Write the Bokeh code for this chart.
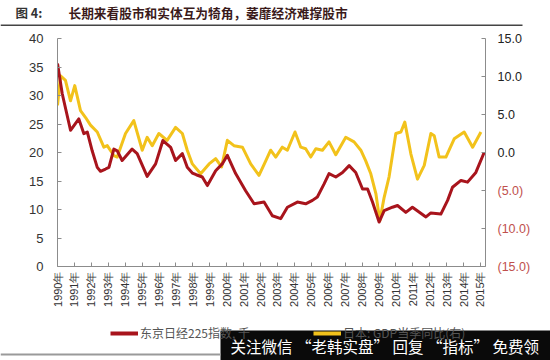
from bokeh.plotting import figure
from bokeh.layouts import column, row
from bokeh.models import (Range1d, LinearAxis, FixedTicker, Label, Legend,
                          LegendItem, BoxAnnotation)
from bokeh.embed import file_html
from bokeh.resources import INLINE

# ---------------- data ----------------
nikkei_t = [1990.00, 1990.28, 1990.77, 1991.26, 1991.56, 1991.76, 1992.05, 1992.35,
            1992.54, 1992.84, 1993.04, 1993.33, 1993.53, 1993.82, 1994.41, 1994.71,
            1995.30, 1995.80, 1996.23, 1996.69, 1996.98, 1997.38, 1997.67, 1997.97,
            1998.20, 1998.56, 1998.86, 1999.35, 1999.74, 2000.04, 2000.53, 2001.12,
            2001.62, 2002.21, 2002.70, 2003.20, 2003.59, 2004.18, 2004.67, 2005.07,
            2005.36, 2005.76, 2006.05, 2006.45, 2006.85, 2007.24, 2007.63, 2008.03,
            2008.33, 2008.62, 2009.01, 2009.31, 2009.80, 2010.10, 2010.59, 2010.98,
            2011.78, 2012.07, 2012.66, 2013.06, 2013.35, 2013.85, 2014.24, 2014.73,
            2015.22]
nikkei_v = [35.6, 30.3, 23.9, 25.9, 23.3, 23.6, 20.3, 17.4,
            16.7, 17.1, 17.4, 20.6, 20.3, 18.6, 20.6, 19.8,
            15.8, 18.0, 22.1, 20.9, 18.6, 19.8, 17.4, 16.4,
            16.1, 15.7, 14.2, 16.8, 18.0, 19.5, 16.3, 13.3,
            11.0, 11.3, 8.9, 8.4, 10.4, 11.3, 11.0, 11.6,
            12.2, 14.5, 16.3, 15.7, 16.5, 17.7, 16.5, 13.6,
            13.6, 11.3, 7.8, 9.8, 10.4, 10.7, 9.5, 10.4,
            8.7, 9.4, 9.2, 11.6, 13.9, 15.1, 14.8, 16.5,
            20.0]

gdp_t = [1990.00, 1990.18, 1990.47, 1990.77, 1991.02, 1991.36, 1991.66, 1991.95,
         1992.35, 1992.74, 1992.94, 1993.33, 1993.53, 1994.02, 1994.51, 1995.01,
         1995.30, 1995.60, 1995.99, 1996.48, 1996.98, 1997.38, 1997.67, 1997.97,
         1998.46, 1998.96, 1999.35, 1999.70, 2000.04, 2000.43, 2000.93, 2001.42,
         2001.91, 2002.31, 2002.60, 2002.90, 2003.29, 2003.59, 2004.04, 2004.38,
         2004.67, 2004.97, 2005.27, 2005.66, 2006.05, 2006.45, 2007.04, 2007.53,
         2007.93, 2008.22, 2008.52, 2008.82, 2009.05, 2009.31, 2009.60, 2010.00,
         2010.30, 2010.53, 2010.89, 2011.28, 2011.68, 2012.07, 2012.27, 2012.56,
         2012.96, 2013.45, 2014.04, 2014.54, 2015.03]
gdp_v = [6.2, 10.1, 9.5, 6.8, 8.8, 5.5, 4.6, 3.6,
         2.7, 0.7, 0.9, -0.4, -0.6, 2.5, 4.2, 0.3,
         2.0, 0.9, 2.5, 1.6, 3.3, 2.5, 0.3, -1.5,
         -2.8, -1.5, -0.8, -1.9, 1.6, 0.9, 0.7, -1.5,
         -3.0, -1.1, 0.3, -0.6, 0.7, 0.3, 2.7, 0.7,
         0.5, -0.6, 0.5, 0.3, 1.4, -0.3, 2.0, 1.4,
         0.3, -1.1, -2.8, -5.4, -9.0, -5.9, -3.2, 2.5,
         2.7, 4.0, -0.2, -3.5, -1.7, 2.5, 2.2, -0.6,
         -0.6, 1.8, 2.7, 0.7, 2.7]

years = list(range(1990, 2016))
year_labels = {y: f"{y}年" for y in years}
left_ticks = [0, 5, 10, 15, 20, 25, 30, 35, 40]
right_pos_ticks = {15: "15.0", 10: "10.0", 5: "5.0", 0: "0.0"}
right_neg_ticks = {-5: "(5.0)", -10: "(10.0)", -15: "(15.0)"}

title_num = "图 4:"
title_text = "长期来看股市和实体互为犄角，萎靡经济难撑股市"
legend_red = "东京日经225指数, 千"
legend_yellow = "日本: GDP当季同比(右)"
watermark = "关注微信 “老韩实盘” 回复 “指标” 免费领"

RED = "#A8141C"
YEL = "#F2C21B"
CJK = "Noto Sans CJK SC"
LAT = "Liberation Sans"
AXC = "#8c8c8c"

# ---------------- geometry (page px) ----------------
TOTAL_W = 550
TITLE_H = 31
MAIN_H = 287
BOT_H = 360 - TITLE_H - MAIN_H
F_LEFT, F_RIGHT = 57, 485
F_TOP, F_BOT = 38, 266
MAIN_W = F_RIGHT + 1
SIDE_W = TOTAL_W - MAIN_W
R_MIN, R_MAX = -15, 15


def blank_fig(w, h, yr=(0, 1)):
    f = figure(width=w, height=h, output_backend="svg", toolbar_location=None,
               x_axis_location=None, y_axis_location=None,
               x_range=Range1d(0, 1), y_range=Range1d(*yr),
               min_border=0, min_border_left=0, min_border_right=0,
               min_border_top=0, min_border_bottom=0)
    f.outline_line_color = None
    f.xgrid.visible = False
    f.ygrid.visible = False
    return f


def box(fig, x0, x1, y0, y1, color, fig_top, fig_h):
    """box in page px, converted to frame-relative screen units"""
    fig.add_layout(BoxAnnotation(
        left=x0, right=x1,
        top=fig_h - (y0 - fig_top), bottom=fig_h - (y1 - fig_top),
        left_units="screen", right_units="screen",
        top_units="screen", bottom_units="screen",
        fill_color=color, fill_alpha=1, line_color=None))


# ---------------- title figure ----------------
tf = blank_fig(TOTAL_W, TITLE_H)
tf.add_layout(Label(x=15, y=TITLE_H - 12, x_units="screen", y_units="screen",
                    text=title_num, text_font=CJK, text_font_size="12.5px",
                    text_font_style="bold", text_color="#333333",
                    text_baseline="middle"))
tf.add_layout(Label(x=68, y=TITLE_H - 12, x_units="screen", y_units="screen",
                    text=title_text, text_font=CJK, text_font_size="12.7px",
                    text_font_style="bold", text_color="#3a1a1a",
                    text_baseline="middle"))
box(tf, 0, 522, 24, 25.5, "#444444", 0, TITLE_H)

# ---------------- main figure ----------------
p = figure(width=MAIN_W, height=MAIN_H, output_backend="svg", toolbar_location=None,
           x_range=Range1d(1990, 2015.3), y_range=Range1d(0, 40),
           min_border_left=F_LEFT, min_border_right=1,
           min_border_top=F_TOP - TITLE_H, min_border_bottom=TITLE_H + MAIN_H - F_BOT)
p.extra_y_ranges = {"gdp": Range1d(R_MIN, R_MAX)}
p.outline_line_color = None
p.xgrid.visible = False
p.ygrid.visible = False

xa = p.xaxis[0]
xa.ticker = FixedTicker(ticks=years)
xa.major_label_overrides = year_labels
xa.major_label_orientation = 3.14159265 / 2
xa.major_label_text_font = LAT
xa.major_label_text_font_size = "11px"
xa.major_label_text_color = "#333333"
xa.major_label_standoff = 5
xa.axis_line_color = AXC
xa.major_tick_line_color = AXC
xa.major_tick_in = 4
xa.major_tick_out = 0
xa.minor_tick_line_color = None

ya = p.yaxis[0]
ya.ticker = FixedTicker(ticks=left_ticks)
ya.major_label_text_font = LAT
ya.major_label_text_font_size = "13px"
ya.major_label_text_color = "#333333"
ya.major_label_standoff = 14
ya.axis_line_color = AXC
ya.major_tick_line_color = AXC
ya.major_tick_in = 4
ya.major_tick_out = 0
ya.minor_tick_line_color = None

ra = LinearAxis(y_range_name="gdp")
all_right = list(right_pos_ticks) + list(right_neg_ticks)
ra.ticker = FixedTicker(ticks=all_right)
ra.major_label_overrides = {k: "" for k in all_right}
ra.major_label_standoff = 0
ra.major_label_text_font_size = "1px"
ra.axis_line_color = AXC
ra.major_tick_line_color = AXC
ra.major_tick_in = 4
ra.major_tick_out = 0
ra.minor_tick_line_color = None
p.add_layout(ra, "right")

r_y = p.line(gdp_t, gdp_v, y_range_name="gdp", line_color=YEL, line_width=3,
             line_join="round")
r_r = p.line(nikkei_t, nikkei_v, line_color=RED, line_width=3, line_join="round")

# ---------------- right tick labels (side figure, full height frame) ----------------
ppu = (F_BOT - F_TOP) / (R_MAX - R_MIN)
side_top = R_MAX + (F_TOP - TITLE_H) / ppu
side_bot = R_MAX - (TITLE_H + MAIN_H - F_TOP) / ppu
sf = blank_fig(SIDE_W, MAIN_H, yr=(side_bot, side_top))
for v, txt in right_pos_ticks.items():
    sf.add_layout(Label(x=497 - MAIN_W, y=v, x_units="screen", text=txt,
                        text_align="left", text_baseline="middle", text_font=LAT,
                        text_font_size="12.5px", text_color="#222222"))
for v, txt in right_neg_ticks.items():
    sf.add_layout(Label(x=497 - MAIN_W, y=v, x_units="screen", text=txt,
                        text_align="left", text_baseline="middle", text_font=LAT,
                        text_font_size="12.5px", text_color="#C0504D"))

# ---------------- bottom figure: legend + overlay ----------------
bf = blank_fig(TOTAL_W, BOT_H)
BT = TITLE_H + MAIN_H
lr = bf.line(nikkei_t, nikkei_v, line_color=RED, line_width=4, visible=False)
ly = bf.line(gdp_t, gdp_v, line_color=YEL, line_width=4, visible=False)
leg_kw = dict(orientation="horizontal", padding=0, margin=0, spacing=0,
              glyph_width=28, glyph_height=14, label_height=14, label_standoff=2,
              border_line_color=None, background_fill_alpha=0,
              label_text_font=CJK, label_text_font_size="12px",
              label_text_color="#555555", click_policy="none")
bf.add_layout(Legend(items=[LegendItem(label=legend_red, renderers=[lr])],
                     location=(110, BOT_H - (341 - BT)), **leg_kw))
bf.add_layout(Legend(items=[LegendItem(label=legend_yellow, renderers=[ly])],
                     location=(313, BOT_H - (341 - BT)), **leg_kw))
box(bf, 220, 560, 330, 365, "#0a0a0a", BT, BOT_H)
box(bf, 0, 220, 353, 355, "#9a9a9a", BT, BOT_H)
bf.add_layout(Label(x=230, y=BOT_H - (345 - BT), x_units="screen", y_units="screen",
                    text=watermark, text_font=CJK, text_font_size="15.5px",
                    text_color="white", text_baseline="middle"))

layout = column(tf, row(p, column(sf, spacing=0), spacing=0), bf, spacing=0)
open("out.html", "w").write(file_html(layout, INLINE))
